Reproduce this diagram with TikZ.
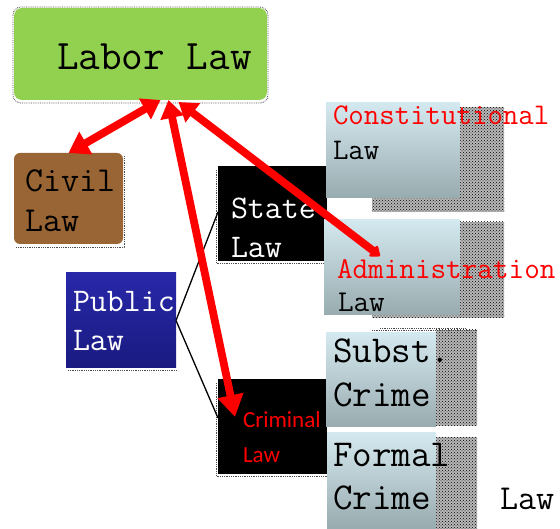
\documentclass[tikz,border=0pt]{standalone}
\usepackage{fontspec}
\newfontfamily\sansfam{Carlito}
\usetikzlibrary{arrows.meta,patterns,calc}
\definecolor{laborgreen}{HTML}{92D050}
\definecolor{civilbrown}{HTML}{9A6534}
\definecolor{pubtop}{HTML}{2828AA}
\definecolor{pubbot}{HTML}{1A1A80}
\definecolor{paletop}{HTML}{D4E9EF}
\definecolor{palebot}{HTML}{98ABAF}
\begin{document}
\begin{tikzpicture}[x=1pt,y=-1pt,
  box/.style={rectangle, inner sep=0pt, outer sep=0pt, anchor=north west},
  pale/.style={box, top color=paletop, bottom color=palebot},
  blackbox/.style={box, fill=black},
  hatchbase/.style={fill=black!28},
  hatch/.style={pattern=crosshatch dots, pattern color=black},
  dotline/.style={draw=black!70, densely dotted, line width=0.8pt},
  tx/.style={anchor=base west, inner sep=0pt, outer sep=0pt},
  mono/.style={font=\ttfamily\fontsize{#1}{#1}\selectfont},
  branch/.style={draw=black, line width=1.3pt},
  redline/.style={draw=red, line width=7.8pt, line cap=round}
]
\useasboundingbox (0,0) rectangle (560,529);

% dotted drop shadows
\draw[dotline, rounded corners=8] (13,7) rectangle (268,103);
\draw[dotline] (16,247) -- (124,247) -- (124,156);
\draw[dotline] (68,370) -- (177,370);
\draw[dotline] (216,170) -- (216,263) -- (327,263);
\draw[dotline] (216,383) -- (216,476) -- (327,476);
\foreach \ax/\ay/\bx/\by in {460/107/504/212, 372/198/504/212, 460/222/504/318,
    372/314/504/318, 436/330/477/426, 436/437/477/529}{
  \fill[hatchbase] (\ax,\ay) rectangle (\bx,\by);
  \fill[hatch] (\ax,\ay) rectangle (\bx,\by);
}
\draw[dotline] (380,328) -- (465,328);
\draw[dotline] (372,330) -- (477,330);

% boxes
\node[box, fill=laborgreen, rounded corners=8, minimum width=253pt, minimum height=92pt] (labor) at (14,8) {};
\node[box, fill=civilbrown, rounded corners=6, minimum width=109pt, minimum height=91pt] (civil) at (14,153) {};
\node[box, top color=pubtop, bottom color=pubbot, minimum width=110pt, minimum height=95pt] (public) at (66,273) {};
\node[blackbox, minimum width=109pt, minimum height=95pt] (state) at (218,166) {};
\node[blackbox, minimum width=109pt, minimum height=95pt] (criminal) at (218,379) {};
\node[pale, minimum width=134pt, minimum height=95pt] (const) at (326,103) {};
\node[pale, minimum width=136pt, minimum height=95pt] (admin) at (324,220) {};
\node[pale, minimum width=110pt, minimum height=94pt] (subst) at (326,333) {};
\node[pale, minimum width=109pt, minimum height=96pt] (formal) at (327,433) {};

% labels
\node[tx, mono=42] (laborT) at (57,70) {Labor Law};
\node[tx, mono=35] (civilA) at (25,192) {Civil};
\node[tx, mono=35] (civilB) at (25,232) {Law};
\node[tx, mono=33, text=white] (publicA) at (73,312) {Public};
\node[tx, mono=33, text=white] (publicB) at (73,351) {Law};
\node[tx, mono=33, text=white] (stateA) at (231,219) {State};
\node[tx, mono=33, text=white] (stateB) at (231,258) {Law};
\node[tx, mono=30, text=red] (constA) at (333,125) {Constitutional};
\node[tx, mono=30] (constB) at (333,160) {Law};
\node[tx, mono=30.3, text=red] (adminA) at (337,279) {Administration};
\node[tx, mono=30.3] (adminB) at (338,312) {Law};
\node[tx, mono=38] (substA) at (333,363) {Subst.};
\node[tx, mono=38] (substB) at (333,407) {Crime};
\node[tx, mono=38] (formalA) at (333,466) {Formal};
\node[tx, mono=38] (formalB) at (333,509) {Crime};
\node[tx, mono=35] (formalC) at (500,509) {Law};
\node[tx, font=\sansfam\fontsize{23}{23}\selectfont, text=red] (crimA) at (243,428) {Criminal};
\node[tx, font=\sansfam\fontsize{23}{23}\selectfont, text=red] (crimB) at (243,462) {Law};

% branches from Public Law
\path[branch] (public.east) -- ($(state.north west)+(0,46)$);
\path[branch] (public.east) -- ($(criminal.north west)+(0,39)$);

% red arrows from Labor Law
\path[redline, {Triangle[length=18pt,width=23pt]}-{Triangle[length=20pt,width=25pt]}]
  ($(labor.south)+(20,0)$) -- (civil.north);
\path[redline, {Triangle[length=18pt,width=23pt]}-{Triangle[length=10pt,width=15pt,round]}]
  ($(labor.south)+(38,2)$) -- ($(admin.north west)+(56,36)$);
\path[redline, {Triangle[length=18pt,width=23pt]}-{Triangle[length=22pt,width=25pt]}]
  ($(labor.south)+(28,0)$) -- ($(criminal.north west)+(17,38)$);
\end{tikzpicture}
\end{document}
